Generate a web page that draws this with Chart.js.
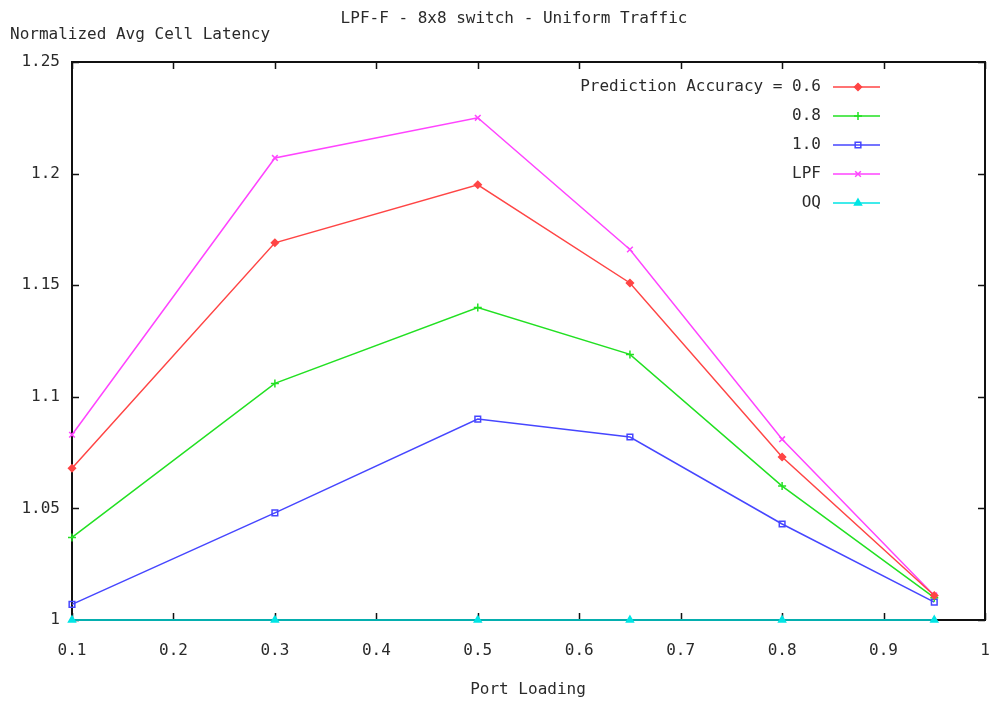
<!DOCTYPE html>
<html>
<head>
<meta charset="utf-8">
<script src="https://cdn.jsdelivr.net/npm/chart.js@4.4.1/dist/chart.umd.min.js"></script>
<style>
  html, body { margin: 0; padding: 0; background: #fff; }
  #wrap { width: 992px; height: 705px; }
</style>
</head>
<body>
<div id="wrap"><canvas id="grafico" width="992" height="705"></canvas></div>
<script>
const loads = [0.1, 0.3, 0.5, 0.65, 0.8, 0.95];
const acc06 = [1.068, 1.169, 1.195, 1.151, 1.073, 1.011];
const acc08 = [1.037, 1.106, 1.140, 1.119, 1.060, 1.010];
const acc10 = [1.007, 1.048, 1.090, 1.082, 1.043, 1.008];
const lpf   = [1.083, 1.207, 1.225, 1.166, 1.081, 1.011];
const oq    = [1.0, 1.0, 1.0, 1.0, 1.0, 1.0];

const xTicks = [0.1, 0.2, 0.3, 0.4, 0.5, 0.6, 0.7, 0.8, 0.9, 1];
const yTicks = [1, 1.05, 1.1, 1.15, 1.2, 1.25];
const legendLabels = ["Prediction Accuracy = 0.6", "0.8", "1.0", "LPF", "OQ"];

const FONT = "16px 'DejaVu Sans Mono'";
const TXT = "#2a2a2a";

function pts(arr) {
    return loads.map((x, i) => ({ x: x, y: arr[i] }));
}

// marco, ticks hacia dentro y textos al estilo gnuplot
const gnuplotFrame = {
    id: "gnuplotFrame",
    beforeDatasetsDraw(chart) {
        const { ctx, chartArea: a, scales } = chart;
        ctx.save();
        ctx.strokeStyle = "#111";
        ctx.lineWidth = 2;
        ctx.strokeRect(a.left, a.top, a.right - a.left, a.bottom - a.top);
        ctx.lineWidth = 1.5;
        ctx.beginPath();
        xTicks.forEach(v => {
            const px = Math.round(scales.x.getPixelForValue(v)) + 0.5;
            ctx.moveTo(px, a.bottom); ctx.lineTo(px, a.bottom - 7);
            ctx.moveTo(px, a.top); ctx.lineTo(px, a.top + 7);
        });
        yTicks.forEach(v => {
            const py = Math.round(scales.y.getPixelForValue(v)) + 0.5;
            ctx.moveTo(a.left, py); ctx.lineTo(a.left + 7, py);
            ctx.moveTo(a.right, py); ctx.lineTo(a.right - 7, py);
        });
        ctx.stroke();
        ctx.restore();
    },
    afterDatasetsDraw(chart) {
        const { ctx } = chart;
        ctx.save();
        ctx.font = FONT;
        ctx.fillStyle = TXT;
        ctx.textBaseline = "middle";
        ctx.textAlign = "center";
        ctx.fillText("LPF-F - 8x8 switch - Uniform Traffic", 514, 19);
        ctx.fillText("Port Loading", 528, 690);
        ctx.textAlign = "left";
        ctx.fillText("Normalized Avg Cell Latency", 10, 35);

        // leyenda
        chart.data.datasets.forEach((ds, i) => {
            const y = 87 + i * 29;
            ctx.textAlign = "right";
            ctx.fillStyle = TXT;
            ctx.fillText(legendLabels[i], 821, y);
            ctx.strokeStyle = ds.borderColor;
            ctx.lineWidth = 1.5;
            ctx.beginPath();
            ctx.moveTo(833, y); ctx.lineTo(880, y);
            ctx.stroke();
            ctx.fillStyle = ds.pointBackgroundColor;
            Chart.helpers.drawPoint(ctx, {
                pointStyle: ds.pointStyle,
                radius: ds.pointRadius,
                borderWidth: ds.pointBorderWidth || 1.5,
                rotation: 0
            }, 858, y);
        });
        ctx.restore();
    }
};

function serie(label, arr, color, style, radius, filled) {
    return {
        label: label,
        data: pts(arr),
        borderColor: color,
        backgroundColor: filled ? color : "rgba(0,0,0,0)",
        borderWidth: 1.5,
        pointStyle: style,
        pointRadius: radius,
        pointBorderWidth: 1.5,
        pointBackgroundColor: filled ? color : "rgba(0,0,0,0)",
        pointBorderColor: color,
        tension: 0,
        clip: false
    };
}

const ctx = document.getElementById("grafico").getContext("2d");
new Chart(ctx, {
    type: "line",
    data: {
        datasets: [
            serie("0.6", acc06, "#ff4545", "rectRot", 3.5, true),
            serie("0.8", acc08, "#22e022", "cross", 4, false),
            serie("1.0", acc10, "#4646ff", "rect", 4, false),
            serie("LPF", lpf, "#ff44ff", "crossRot", 4, false),
            serie("OQ", oq, "#00e5e5", "triangle", 4, true)
        ]
    },
    options: {
        responsive: false,
        animation: false,
        layout: { padding: { top: 62, right: 7, left: 0, bottom: 0 } },
        plugins: {
            legend: { display: false },
            title: { display: false },
            tooltip: { enabled: false }
        },
        scales: {
            x: {
                type: "linear",
                min: 0.1,
                max: 1,
                afterBuildTicks: s => { s.ticks = xTicks.map(v => ({ value: v })); },
                afterFit: s => { s.height = 85; s.paddingLeft = 0; s.paddingRight = 0; },
                grid: { display: false, drawTicks: false },
                border: { display: false },
                ticks: {
                    padding: 21,
                    color: TXT,
                    font: { family: "DejaVu Sans Mono", size: 16 },
                    callback: v => String(+v.toFixed(2))
                }
            },
            y: {
                min: 1,
                max: 1.25,
                afterBuildTicks: s => { s.ticks = yTicks.map(v => ({ value: v })); },
                afterFit: s => { s.width = 72; s.paddingTop = 0; s.paddingBottom = 0; },
                grid: { display: false, drawTicks: false },
                border: { display: false },
                ticks: {
                    padding: 12,
                    color: TXT,
                    font: { family: "DejaVu Sans Mono", size: 16 },
                    callback: v => String(+v.toFixed(2))
                }
            }
        }
    },
    plugins: [gnuplotFrame]
});
</script>
</body>
</html>
